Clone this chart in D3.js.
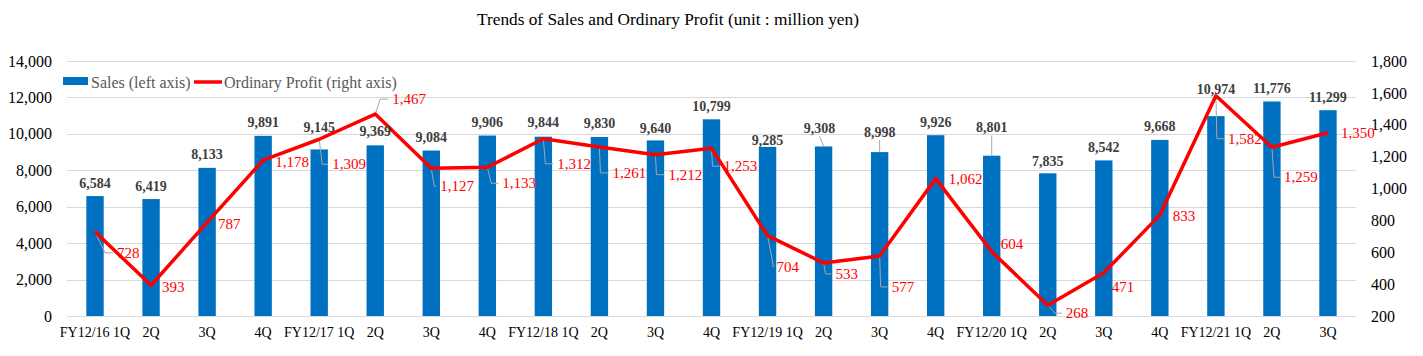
<!DOCTYPE html>
<html>
<head>
<meta charset="utf-8">
<script src="https://cdn.jsdelivr.net/npm/d3@7/dist/d3.min.js"></script>
<style>
  html, body { margin: 0; padding: 0; background: #fff; }
  svg { display: block; }
  text { font-family: "Liberation Serif", "Times New Roman", serif; }
</style>
</head>
<body>
<svg id="chart" width="1423" height="356"></svg>
<script>
// ---- data ----
const categories = ["FY12/16 1Q","2Q","3Q","4Q","FY12/17 1Q","2Q","3Q","4Q","FY12/18 1Q","2Q","3Q","4Q",
  "FY12/19 1Q","2Q","3Q","4Q","FY12/20 1Q","2Q","3Q","4Q","FY12/21 1Q","2Q","3Q"];
const sales = [6584,6419,8133,9891,9145,9369,9084,9906,9844,9830,9640,10799,
  9285,9308,8998,9926,8801,7835,8542,9668,10974,11776,11299];
const profit = [728,393,787,1178,1309,1467,1127,1133,1312,1261,1212,1253,
  704,533,577,1062,604,268,471,833,1582,1259,1350];
const leftTicks = [0,2000,4000,6000,8000,10000,12000,14000];
const rightTicks = [200,400,600,800,1000,1200,1400,1600,1800];

// ---- label layout (pixel offsets, not data) ----
const salesLabelDy = [-13,-13,-13,-13,-22,-14,-13,-13,-14,-13,-12,-13,-6,-18,-20,-13,-28,-12,-13,-13,-27,-13,-13];
const salesLabelDx = [0,0,0,0,0,0,0,0,0,0,0,0,0,-4,0,0,0,0,0,0,0,0,0];
const salesLeader = [13,14,16];
const profitLabelOff = [[22,21],[11,2],[11,2],[12,2],[13,25],[17,-15],[9,18],[15,16],[14,25],[13,26],[13,20],[12,18],
  [9,31],[12,11],[12,31],[13,0],[9,-8],[18,8],[8,14],[13,1],[12,43],[12,30],[13,0]];
const profitLeaderCorner = [10,null,null,null,3,5,3,4,2,1,1,1,6,2,1,null,null,7,null,null,1,2,null];

const svg = d3.select("#chart");
const W = 1423, H = 356;
const plot = {left: 67, right: 1356, top: 61, bottom: 316};

const x = d3.scaleBand().domain(d3.range(categories.length)).range([plot.left, plot.right]).padding(0);
const yL = d3.scaleLinear().domain([0,14000]).range([plot.bottom, plot.top]);
const yR = d3.scaleLinear().domain([200,1800]).range([plot.bottom, plot.top]);
const barW = x.step() * 0.31;
const cx = i => x(i) + x.bandwidth()/2;
const fmt = d3.format(",");

// title
svg.append("text").attr("x", 668).attr("y", 25).attr("text-anchor","middle")
  .style("font-size","17.3px").attr("fill","#000")
  .text("Trends of Sales and Ordinary Profit (unit : million yen)");

// gridlines
svg.append("g").selectAll("line").data(leftTicks).join("line")
  .attr("x1", plot.left).attr("x2", plot.right)
  .attr("y1", d => Math.round(yL(d)) + 0.5).attr("y2", d => Math.round(yL(d)) + 0.5)
  .attr("stroke", "#d9d9d9").attr("stroke-width", 1);

// left axis
const axL = d3.axisLeft(yL).tickValues(leftTicks).tickFormat(fmt).tickSize(0).tickPadding(0);
const gL = svg.append("g").attr("transform", "translate(52,0)").call(axL);
gL.select(".domain").remove();
gL.selectAll("text").style("font-size","16px").style("font-family","Liberation Serif").attr("fill","#000");

// right axis
const axR = d3.axisRight(yR).tickValues(rightTicks).tickFormat(fmt).tickSize(0).tickPadding(0);
const gR = svg.append("g").attr("transform", "translate(1371,0)").call(axR);
gR.select(".domain").remove();
gR.selectAll("text").style("font-size","16px").style("font-family","Liberation Serif").attr("fill","#000");

// bottom axis
const axB = d3.axisBottom(x).tickFormat(i => categories[i]).tickSize(0).tickPadding(0);
const gB = svg.append("g").attr("transform", "translate(0,327)").call(axB);
gB.select(".domain").remove();
gB.selectAll("text").style("font-size","14px").style("font-family","Liberation Serif").attr("fill","#000");

// bars
svg.append("g").selectAll("rect").data(sales).join("rect")
  .attr("x", (d,i) => cx(i) - barW/2).attr("width", barW)
  .attr("y", d => yL(d)).attr("height", d => yL(0) - yL(d))
  .attr("fill", "#0070c0");

// sales leaders
svg.append("g").selectAll("line").data(salesLeader).join("line")
  .attr("x1", i => cx(i) + salesLabelDx[i]).attr("y1", i => yL(sales[i]) + salesLabelDy[i] + 8)
  .attr("x2", i => cx(i)).attr("y2", i => yL(sales[i]))
  .attr("stroke", "#a6a6a6").attr("stroke-width", 1);

// profit leaders
const leaderData = d3.range(profit.length).filter(i => profitLeaderCorner[i] !== null);
svg.append("g").selectAll("path").data(leaderData).join("path")
  .attr("d", i => {
    const px = cx(i), py = yR(profit[i]);
    const lx = px + profitLabelOff[i][0], ly = py + profitLabelOff[i][1];
    return d3.line()([[px, py], [px + profitLeaderCorner[i], ly], [lx - 4, ly]]);
  })
  .attr("fill", "none").attr("stroke", "#a6a6a6").attr("stroke-width", 1);

// profit line
svg.append("path").datum(profit)
  .attr("d", d3.line().x((d,i) => cx(i)).y(d => yR(d)))
  .attr("fill", "none").attr("stroke", "#ff0000").attr("stroke-width", 3.5).attr("stroke-linejoin","round");

// sales labels
svg.append("g").selectAll("text").data(sales).join("text")
  .attr("x", (d,i) => cx(i) + salesLabelDx[i]).attr("y", (d,i) => yL(d) + salesLabelDy[i])
  .attr("text-anchor","middle").attr("dominant-baseline","central")
  .style("font-size","14px").style("font-weight","bold").attr("fill","#404040")
  .text(d => fmt(d));

// profit labels
svg.append("g").selectAll("text").data(profit).join("text")
  .attr("x", (d,i) => cx(i) + profitLabelOff[i][0]).attr("y", (d,i) => yR(d) + profitLabelOff[i][1])
  .attr("text-anchor","start").attr("dominant-baseline","central")
  .style("font-size","15px").attr("fill","#ff0000")
  .text(d => fmt(d));

// legend
const lg = svg.append("g");
lg.append("rect").attr("x", 63).attr("y", 77).attr("width", 25).attr("height", 8).attr("fill", "#0070c0");
lg.append("text").attr("x", 91).attr("y", 82).attr("dominant-baseline","central")
  .style("font-size","16px").attr("fill","#595959").text("Sales (left axis)");
lg.append("line").attr("x1", 194).attr("x2", 222).attr("y1", 82).attr("y2", 82)
  .attr("stroke", "#ff0000").attr("stroke-width", 3.5);
lg.append("text").attr("x", 224).attr("y", 82).attr("dominant-baseline","central")
  .style("font-size","16px").attr("fill","#595959").text("Ordinary Profit (right axis)");
</script>
</body>
</html>
